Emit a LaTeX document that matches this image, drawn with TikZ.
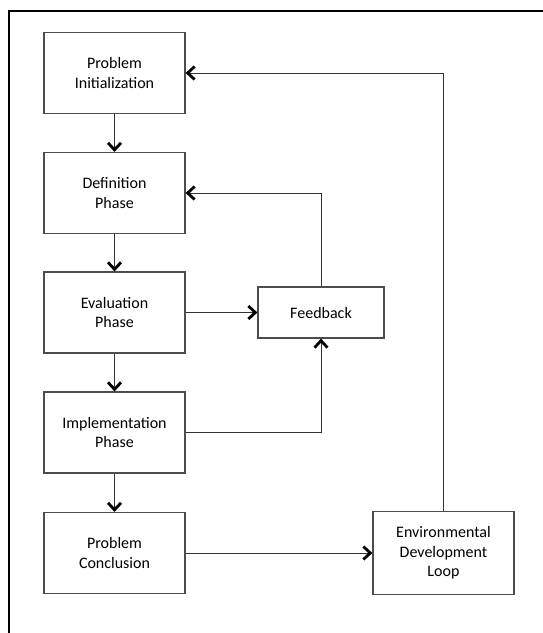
\documentclass[tikz,border=0pt]{standalone}
\usepackage{fontspec}
\setmainfont{Carlito}
\usetikzlibrary{arrows.meta}

\tikzset{
  box/.style={draw=black!70, line width=1.2pt, fill=white, minimum width=141pt,
    minimum height=81pt, align=center, font=\fontsize{16}{19.5}\selectfont},
  arr/.style={draw=black!80, line width=1pt,
    -{Straight Barb[length=7pt, width=13pt, line width=2.8pt, color=black]}}
}

\begin{document}
\begin{tikzpicture}[x=1pt, y=-1pt]
    \useasboundingbox (0,0) rectangle (543,633);
    \draw[line width=2pt] (9,633) -- (9,11) -- (543,11);

    \node[box] (init) at (114.5,73) {Problem\\Initialization};
    \node[box] (defn) at (114.5,193) {Definition\\Phase};
    \node[box] (eval) at (114.5,312.5) {Evaluation\\Phase};
    \node[box] (impl) at (114.5,432.5) {Implementation\\Phase};
    \node[box] (concl) at (114.5,553) {Problem\\Conclusion};
    \node[box, minimum width=126pt, minimum height=51pt] (feedback) at (321,312.5) {Feedback};
    \node[box, minimum width=141pt, minimum height=83pt] (envloop) at (443.5,553) {Environmental\\Development\\Loop};

    \draw[arr] (init) -- (defn);
    \draw[arr] (defn) -- (eval);
    \draw[arr] (eval) -- (impl);
    \draw[arr] (impl) -- (concl);
    \draw[arr] (eval) -- (feedback);
    \draw[arr] (impl.east) -| (feedback.south);
    \draw[arr] (feedback.north) |- (defn.east);
    \draw[arr] (concl) -- (envloop);
    \draw[arr] (envloop.north) |- (init.east);
  \end{tikzpicture}
\end{document}
